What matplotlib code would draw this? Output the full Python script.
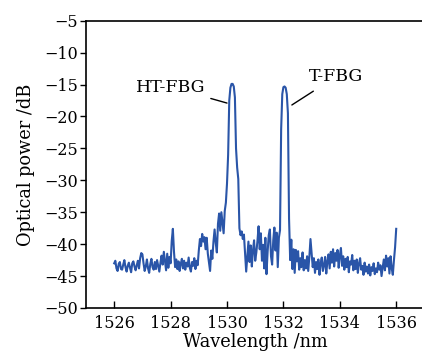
import numpy as np
import matplotlib
matplotlib.use("Agg")
import matplotlib.pyplot as plt

plt.rcParams["font.family"] = ["DejaVu Serif"]

# ---------------------------------------------------------------------------
# Spectrum, 0.04 nm steps from 1526 to 1536 nm
# ---------------------------------------------------------------------------
WL_START, WL_STEP = 1526.0, 0.04

power_1526 = [-43.0, -42.6, -43.8, -44.2, -43.1, -42.8, -43.9, -44.0, -43.2, -42.5,
              -43.6, -44.3, -43.4, -42.9, -43.7, -44.4, -43.0, -42.7, -43.5, -44.1,
              -43.3, -42.6, -43.8, -42.2, -41.4]
power_1527 = [-41.6, -43.0, -44.2, -43.5, -42.4, -43.8, -44.5, -43.1, -42.3, -43.6,
              -44.0, -42.8, -43.9, -42.5, -43.4, -44.3, -42.9, -41.8, -43.2, -41.2,
              -42.6, -44.1, -41.5, -43.7, -42.0]
power_1528 = [-43.0, -39.5, -37.6, -41.2, -43.6, -42.4, -43.9, -42.7, -44.2, -43.1,
              -42.3, -43.8, -42.6, -44.0, -42.9, -43.5, -42.1, -43.7, -44.3, -42.8,
              -43.4, -42.2, -43.9, -42.6, -43.3]
power_1529 = [-41.0, -39.2, -40.3, -38.4, -39.6, -38.9, -40.8, -39.0, -41.5, -42.8,
              -44.2, -41.0, -42.3, -39.6, -37.7, -39.8, -41.3, -36.8, -35.2, -37.9,
              -35.0, -36.6, -38.3, -34.8, -33.5]
power_1530 = [-30.5, -26.0, -17.5, -15.5, -14.9, -14.9, -15.3, -17.0, -25.0, -28.0,
              -29.8, -37.5, -38.6, -38.0, -39.2, -38.5, -41.5, -44.3, -42.0, -39.6,
              -42.8, -40.2, -43.5, -41.0, -39.4]
power_1531 = [-42.6, -41.3, -39.5, -37.2, -40.8, -38.3, -42.6, -40.1, -43.8, -39.0,
              -44.7, -41.2, -38.6, -37.7, -41.9, -43.2, -39.4, -37.4, -41.0, -38.2,
              -43.6, -39.0, -37.8, -22.0, -16.5]
power_1532 = [-15.4, -15.3, -15.5, -16.5, -19.5, -36.0, -42.5, -39.3, -43.9, -40.8,
              -44.5, -40.9, -42.7, -41.1, -44.0, -42.2, -43.6, -41.3, -44.1, -42.5,
              -43.8, -41.9, -44.2, -42.0, -39.2]
power_1533 = [-41.5, -43.6, -42.2, -44.5, -42.8, -43.9, -42.4, -44.8, -43.0, -42.1,
              -44.2, -43.3, -42.0, -44.6, -42.7, -41.6, -43.8, -41.2, -42.9, -40.8,
              -43.5, -41.4, -42.6, -40.9, -43.7]
power_1534 = [-41.8, -40.6, -43.4, -41.9, -44.0, -42.3, -43.6, -42.0, -44.4, -42.7,
              -43.2, -41.7, -44.1, -42.6, -43.9, -42.4, -44.5, -43.0, -42.2, -44.0,
              -43.4, -44.8, -42.9, -44.3, -43.5]
power_1535 = [-44.6, -43.2, -44.9, -43.6, -44.2, -43.0, -44.7, -43.8, -44.4, -42.9,
              -44.0, -43.3, -45.0, -43.7, -42.4, -44.1, -41.8, -43.5, -42.2, -44.6,
              -41.9, -43.8, -44.8, -42.5, -40.5]
power_1536 = [-37.6]

power = np.array(power_1526 + power_1527 + power_1528 + power_1529 + power_1530
                 + power_1531 + power_1532 + power_1533 + power_1534 + power_1535
                 + power_1536)
wavelength = WL_START + WL_STEP * np.arange(len(power))

X_TICKS = [1526, 1528, 1530, 1532, 1534, 1536]
Y_TICKS = [-50, -45, -40, -35, -30, -25, -20, -15, -10, -5]

# ---------------------------------------------------------------------------
# Figure
# ---------------------------------------------------------------------------
fig = plt.figure(figsize=(4.22, 3.59), dpi=100)
ax = fig.add_axes([0.2038, 0.1421, 0.8019, 0.8002])

ax.plot(wavelength, power, color="#2a55a8", linewidth=1.5)

ax.set_xlim(1525, 1537)
ax.set_ylim(-50, -5)
ax.set_xticks(X_TICKS)
ax.set_yticks(Y_TICKS)
ax.tick_params(axis="x", direction="in", length=5, width=1.0, labelsize=11.5, pad=5)
ax.tick_params(axis="y", direction="out", length=4, width=1.0, labelsize=11.5, pad=2)
for sp in ax.spines.values():
    sp.set_linewidth(1.2)

ax.set_xlabel("Wavelength /nm", fontsize=12.8, labelpad=1)
ax.set_ylabel("Optical power /dB", fontsize=12.8, labelpad=6)

ax.annotate("HT-FBG", xy=(1530.0, -17.9), xytext=(1528.0, -15.4),
            fontsize=12.5, ha="center", va="center",
            arrowprops=dict(arrowstyle="-", color="black", linewidth=1.0,
                            shrinkA=2, shrinkB=0))
ax.annotate("T-FBG", xy=(1532.3, -18.2), xytext=(1533.85, -13.8),
            fontsize=12.5, ha="center", va="center",
            arrowprops=dict(arrowstyle="-", color="black", linewidth=1.0,
                            shrinkA=4, shrinkB=0))

fig.savefig("out.png", dpi=100)
